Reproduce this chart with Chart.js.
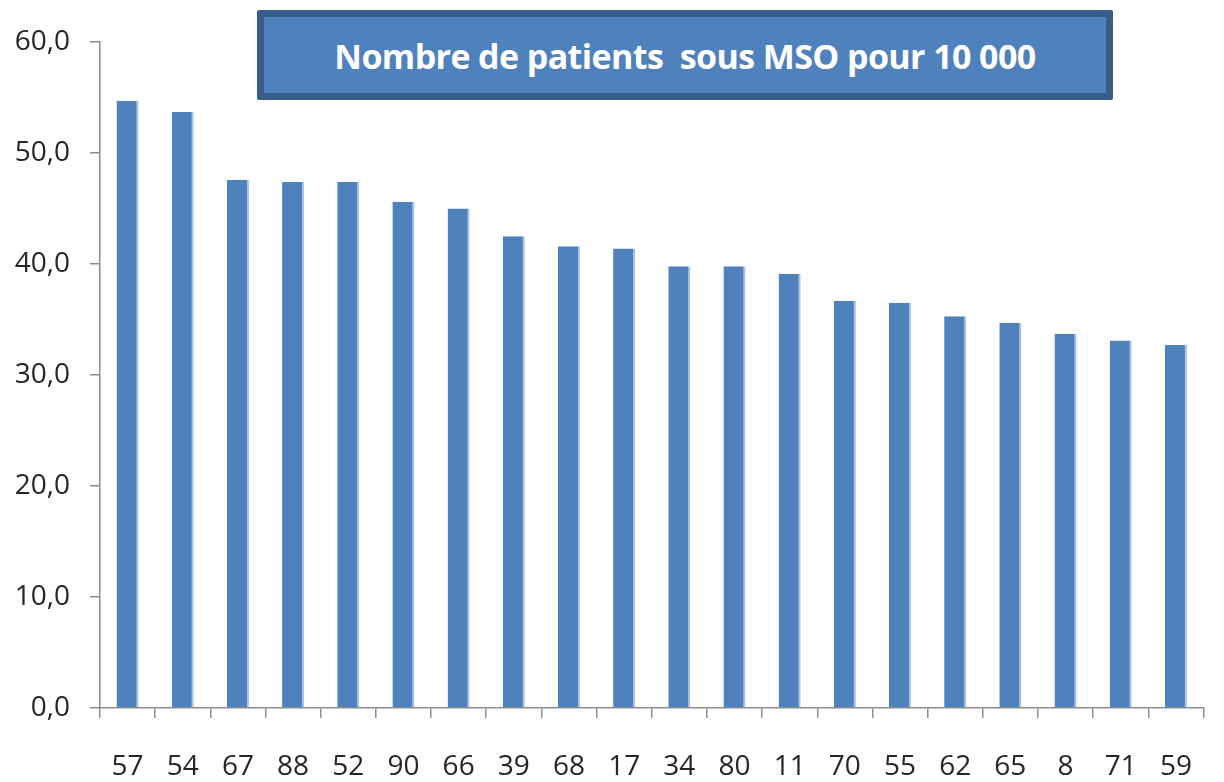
<!DOCTYPE html>
<html>
<head>
<meta charset="utf-8">
<script src="https://cdn.jsdelivr.net/npm/chart.js@4"></script>
<style>
    html, body { margin: 0; padding: 0; background: #ffffff; }
    #wrap { position: relative; width: 1224px; height: 782px; }
    #title-box {
        position: absolute;
        left: 257px; top: 10px;
        width: 842px; height: 76px;
        background: #4f81bd;
        border: 7px solid #385d8a;
        border-radius: 2px;
        color: #ffffff;
        font-family: "Open Sans", sans-serif;
        font-weight: bold;
        font-size: 34px;
        line-height: 78px;
        text-align: center;
        white-space: pre;
        letter-spacing: -0.6px;
    }
</style>
</head>
<body>
<div id="wrap">
    <canvas id="chart" width="1224" height="782"></canvas>
    <div id="title-box">Nombre de patients  sous MSO pour 10 000</div>
</div>
<script>
// Departements, sorted by rate
const departements = ['57', '54', '67', '88', '52', '90', '66', '39', '68', '17',
                      '34', '80', '11', '70', '55', '62', '65', '8', '71', '59'];
// Patients under MSO per 10 000 inhabitants
const patientsPour10000 = [54.7, 53.7, 47.6, 47.4, 47.4, 45.6, 45.0, 42.5, 41.6, 41.4,
                           39.8, 39.8, 39.1, 36.7, 36.5, 35.3, 34.7, 33.7, 33.1, 32.7];
const yMin = 0;
const yMax = 60;
const yStep = 10;

const axisGray = '#8c8c8c';
const labelColor = '#262626';
const labelFont = { family: '"Open Sans", sans-serif', size: 28 };

function formatTick(value) {
    return value.toFixed(1).replace('.', ',');
}

document.addEventListener('DOMContentLoaded', () => {
    const ctx = document.getElementById('chart').getContext('2d');
    new Chart(ctx, {
        type: 'bar',
        data: {
            labels: departements,
            datasets: [{
                data: patientsPour10000,
                backgroundColor: '#4f81bd',
                borderColor: '#a9c4e4',
                borderWidth: { top: 0, left: 0, right: 2, bottom: 0 },
                borderSkipped: false,
                categoryPercentage: 1.0,
                barPercentage: 0.4
            }]
        },
        options: {
            responsive: false,
            animation: false,
            layout: {
                padding: { top: 42, right: 4, bottom: 0, left: 0 }
            },
            plugins: {
                legend: { display: false },
                tooltip: { enabled: false }
            },
            scales: {
                x: {
                    grid: {
                        drawOnChartArea: false,
                        drawTicks: true,
                        tickLength: 10,
                        color: axisGray,
                        lineWidth: 1.5
                    },
                    border: { color: axisGray, width: 1.5 },
                    ticks: {
                        color: labelColor,
                        padding: 32,
                        maxRotation: 0,
                        autoSkip: false,
                        font: labelFont
                    },
                    afterFit(scale) { scale.height = 74; }
                },
                y: {
                    min: yMin,
                    max: yMax,
                    grid: {
                        drawOnChartArea: false,
                        drawTicks: true,
                        tickLength: 10,
                        color: axisGray,
                        lineWidth: 1.5
                    },
                    border: { color: axisGray, width: 1.5 },
                    ticks: {
                        stepSize: yStep,
                        color: labelColor,
                        padding: 20,
                        callback: value => formatTick(value),
                        font: labelFont
                    },
                    afterFit(scale) { scale.width = 100; }
                }
            }
        }
    });
});
</script>
</body>
</html>
